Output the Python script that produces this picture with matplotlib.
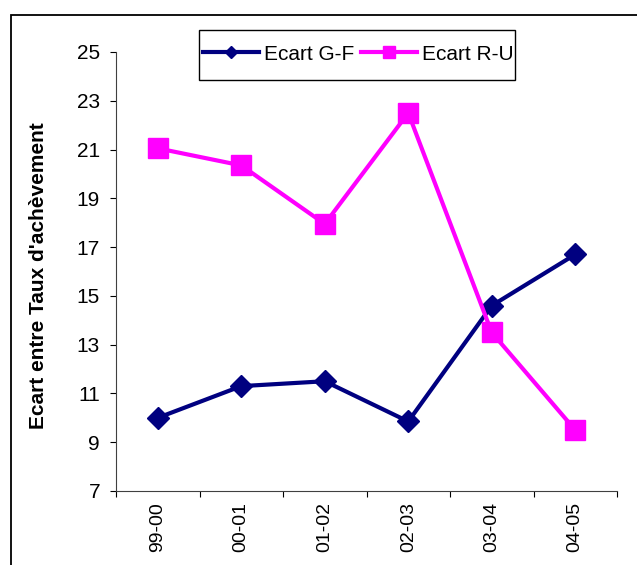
import matplotlib.pyplot as plt
from matplotlib.patches import Rectangle

plt.rcParams['font.family'] = ['Liberation Sans', 'DejaVu Sans']

periods = ['99-00', '00-01', '01-02', '02-03', '03-04', '04-05']
ecart_gf = [10.0, 11.3, 11.5, 9.85, 14.6, 16.7]
ecart_ru = [21.05, 20.35, 17.95, 22.5, 13.5, 9.5]
y_ticks = [7, 9, 11, 13, 15, 17, 19, 21, 23, 25]

W, H = 637, 565
fig = plt.figure(figsize=(W / 100, H / 100), dpi=100)

# outer chart frame (runs off the right and bottom edges)
fig.patches.append(Rectangle((11 / W, -0.1), 1.1, 1 - 15 / H + 0.1,
                             transform=fig.transFigure, fill=False,
                             edgecolor='black', linewidth=1.3))
# legend box
fig.patches.append(Rectangle((199 / W, 1 - 80 / H), 316 / W, 50 / H,
                             transform=fig.transFigure, fill=False,
                             edgecolor='black', linewidth=1))

ax = fig.add_axes([116 / W, 1 - 491 / H, (617 - 116) / W, (491 - 52) / H])

x = list(range(len(periods)))
ax.plot(x, ecart_gf, color='#000080', linewidth=3, marker='D', markersize=11,
        label='Ecart G-F', clip_on=False)
ax.plot(x, ecart_ru, color='#FF00FF', linewidth=3, marker='s', markersize=14,
        label='Ecart R-U', clip_on=False)

ax.set_xlim(-0.5, len(periods) - 0.5)
ax.set_ylim(7, 25)
ax.set_yticks(y_ticks)
ax.set_yticklabels([str(v) for v in y_ticks], fontsize=15)
ax.set_xticks([i - 0.5 for i in range(len(periods) + 1)])
ax.set_xticklabels([])
ax.set_xticks(x, minor=True)
ax.set_xticklabels(periods, minor=True, rotation=90, fontsize=14)
ax.tick_params(axis='x', which='minor', length=0, pad=8)
ax.tick_params(axis='x', which='major', direction='out', length=4)
ax.tick_params(axis='y', direction='out', length=4.5, pad=7)

for side in ['top', 'right']:
    ax.spines[side].set_visible(False)
for side in ['left', 'bottom']:
    ax.spines[side].set_color('#404040')

ax.set_ylabel("Ecart entre Taux d'achèvement", fontsize=15, fontweight='bold')
ax.yaxis.set_label_coords(-68 / (617 - 116), 0.49)

leg = ax.legend(loc='center left', bbox_to_anchor=(203 / W, 1 - 54 / H),
                bbox_transform=fig.transFigure, ncol=2, fontsize=15,
                frameon=False, handlelength=2.7, columnspacing=0.3,
                handletextpad=0.25, borderpad=0, borderaxespad=0,
                markerscale=0.6)

plt.savefig('out.png', dpi=100)
